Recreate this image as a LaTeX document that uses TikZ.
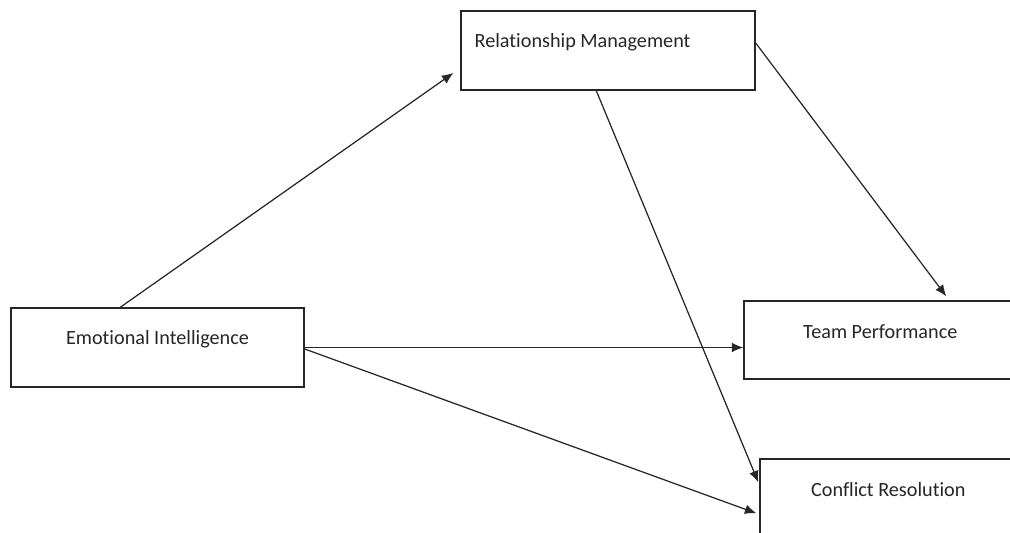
\documentclass[tikz,border=0pt]{standalone}
\usepackage{fontspec}
\setmainfont{Carlito}[Ligatures=NoCommon]
\usetikzlibrary{arrows.meta}
\begin{document}
\begin{tikzpicture}[x=0.02cm,y=-0.02cm,
  box/.style={draw=black!85, line width=0.8pt, rectangle, inner sep=0pt},
  lbl/.style={font=\fontsize{11.5}{13.5}\selectfont, text=black!85, inner sep=0pt},
  arr/.style={draw=black!85, line width=0.7pt, -{Latex[length=6.5pt,width=5.5pt]}}]
\clip (0,0) rectangle (1010,533);
\fill[white] (0,0) rectangle (1010,533);
% boxes
\node[box, minimum width=294*0.02cm, minimum height=79*0.02cm] (rm) at (608,50.5) {};
\node[box, minimum width=293*0.02cm, minimum height=79*0.02cm] (ei) at (157.5,347.5) {};
\node[box, minimum width=276*0.02cm, minimum height=78*0.02cm] (tp) at (882,340) {};
\node[box, minimum width=260*0.02cm, minimum height=90*0.02cm] (cr) at (890,504) {};
% labels
\node[lbl, anchor=west] (rmt) at ([xshift=0.28cm, yshift=-0.64cm]rm.north west) {Relationship Management};
\node[lbl] (eit) at ([yshift=0.17cm]ei.center) {Emotional Intelligence};
\node[lbl] (tpt) at ([xshift=2.74cm, yshift=-0.62cm]tp.north west) {Team Performance};
\node[lbl] (crt) at ([xshift=2.58cm, yshift=-0.62cm]cr.north west) {Conflict Resolution};
% connectors
\draw[arr] ([xshift=2.2cm]ei.north west) -- ([xshift=-0.14cm, yshift=-0.45cm]rm.west);
\draw[arr] ([yshift=0.15cm]rm.east) -- ([xshift=4.06cm, yshift=0.08cm]tp.north west);
\draw[arr] ([xshift=2.72cm]rm.south west) -- ([xshift=-0.02cm, yshift=-0.48cm]cr.north west);
\draw[arr] (ei.east) -- (ei.east -| tp.west);
\draw[arr] ([yshift=-0.03cm]ei.east) -- ([xshift=-0.06cm, yshift=-1.1cm]cr.north west);
\end{tikzpicture}
\end{document}
